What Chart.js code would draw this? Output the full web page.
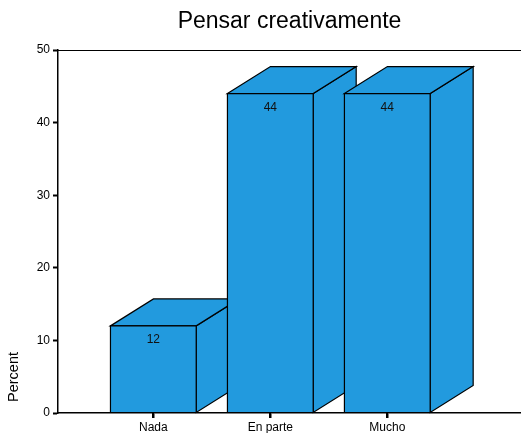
<!DOCTYPE html>
<html>
<head>
<meta charset="utf-8">
<title>Pensar creativamente</title>
<script src="https://cdn.jsdelivr.net/npm/chart.js@4.4.1/dist/chart.umd.min.js"></script>
<style>
  html, body { margin: 0; padding: 0; background: #fff; }
  #wrap { width: 521px; height: 433px; position: relative; }
</style>
</head>
<body>
<div id="wrap"><canvas id="percentChart"></canvas></div>
<script>
// Chart data
const chartTitle = "Pensar creativamente";
const axisTitle = "Percent";
const categories = ["Nada", "En parte", "Mucho"];
const percentValues = [12, 44, 44];
const yTickValues = [0, 10, 20, 30, 40, 50];

const FONT = "'Liberation Sans', Arial, sans-serif";
const BAR_BLUE = "#229ade";

/**
 * Plugin: draw the bars as SPSS-style 3D blocks (side, top, front),
 * left to right so each block hides the previous one's side face.
 */
const blockBarsPlugin = {
  id: "blockBars",
  afterDatasetsDraw(chart, args, opts) {
    const ctx = chart.ctx;
    const meta = chart.getDatasetMeta(0);
    const dx = opts.depthX;
    const dy = opts.depthY;

    ctx.save();
    ctx.fillStyle = BAR_BLUE;
    ctx.strokeStyle = "#000";
    ctx.lineWidth = 1.2;
    ctx.lineJoin = "miter";

    meta.data.forEach((bar) => {
      const { x, y, base, width } = bar.getProps(["x", "y", "base", "width"], true);
      const l = x - width / 2;
      const r = x + width / 2;

      // side face
      ctx.beginPath();
      ctx.moveTo(r, y);
      ctx.lineTo(r + dx, y + dy);
      ctx.lineTo(r + dx, base + dy);
      ctx.lineTo(r, base);
      ctx.closePath();
      ctx.fill();
      ctx.stroke();

      // top face
      ctx.beginPath();
      ctx.moveTo(l, y);
      ctx.lineTo(l + dx, y + dy);
      ctx.lineTo(r + dx, y + dy);
      ctx.lineTo(r, y);
      ctx.closePath();
      ctx.fill();
      ctx.stroke();

      // front face
      ctx.beginPath();
      ctx.rect(l, y, width, base - y);
      ctx.fill();
      ctx.stroke();
    });

    // value labels inside the front faces
    ctx.fillStyle = "#111";
    ctx.font = "12px " + FONT;
    ctx.textAlign = "center";
    ctx.textBaseline = "middle";
    meta.data.forEach((bar, i) => {
      const { x, y } = bar.getProps(["x", "y"], true);
      ctx.fillText(String(percentValues[i]), x, y + 14);
    });
    ctx.restore();
  },
};

/**
 * Plugin: top frame line, category tick marks and the
 * bottom-aligned "Percent" axis title
 */
const framePlugin = {
  id: "frame",
  beforeDatasetsDraw(chart) {
    const { ctx, chartArea } = chart;
    const xScale = chart.scales.x;
    ctx.save();
    ctx.strokeStyle = "#000";
    ctx.lineWidth = 1;
    ctx.beginPath();
    ctx.moveTo(chartArea.left, chartArea.top + 0.5);
    ctx.lineTo(chart.width, chartArea.top + 0.5);
    ctx.stroke();

    // small tick under each category
    ctx.lineWidth = 2;
    categories.forEach((_, i) => {
      const px = Math.round(xScale.getPixelForValue(i));
      ctx.beginPath();
      ctx.moveTo(px, chartArea.bottom);
      ctx.lineTo(px, chartArea.bottom + 5);
      ctx.stroke();
    });

    ctx.translate(14, chartArea.bottom - 11);
    ctx.rotate(-Math.PI / 2);
    ctx.fillStyle = "#000";
    ctx.font = "14.5px " + FONT;
    ctx.textAlign = "left";
    ctx.textBaseline = "middle";
    ctx.fillText(axisTitle, 0, 0);
    ctx.restore();
  },
};

const ctx = document.getElementById("percentChart").getContext("2d");
new Chart(ctx, {
  type: "bar",
  data: {
    datasets: [
      {
        label: axisTitle,
        data: percentValues.map((v, i) => ({ x: i, y: v })),
        backgroundColor: "rgba(0,0,0,0)",
        borderWidth: 0,
        categoryPercentage: 1,
        barPercentage: 0.733,
      },
    ],
  },
  options: {
    responsive: true,
    maintainAspectRatio: false,
    animation: false,
    layout: { padding: 0 },
    plugins: {
      legend: { display: false },
      tooltip: { enabled: false },
      title: {
        display: true,
        fullSize: false,
        text: chartTitle,
        color: "#000",
        font: { family: FONT, size: 23, weight: "normal" },
        padding: { top: 7.5, bottom: 14.9 },
      },
      blockBars: { depthX: 43, depthY: -27 },
    },
    scales: {
      x: {
        type: "linear",
        offset: false,
        min: -0.815,
        max: 3.143,
        afterBuildTicks: (scale) => {
          scale.ticks = categories.map((_, i) => ({ value: i }));
        },
        afterFit: (scale) => { scale.height = 20; },
        ticks: {
          color: "#000",
          font: { family: FONT, size: 12 },
          padding: 2,
          maxRotation: 0,
          callback: (v) => categories[v] ?? "",
        },
        grid: {
          offset: false,
          drawOnChartArea: false,
          tickLength: 5,
          tickWidth: 2,
          tickColor: "#000",
        },
        border: { display: true, color: "#000", width: 1.5 },
      },
      y: {
        min: 0,
        max: 50,
        afterBuildTicks: (scale) => {
          scale.ticks = yTickValues.map((v) => ({ value: v }));
        },
        afterFit: (scale) => { scale.width = 58; },
        ticks: {
          color: "#000",
          font: { family: FONT, size: 12 },
          padding: 3,
        },
        grid: {
          drawOnChartArea: false,
          tickLength: 5,
          tickWidth: 2,
          tickColor: "#000",
        },
        border: { display: true, color: "#000", width: 1.5 },
      },
    },
  },
  plugins: [framePlugin, blockBarsPlugin],
});
</script>
</body>
</html>
